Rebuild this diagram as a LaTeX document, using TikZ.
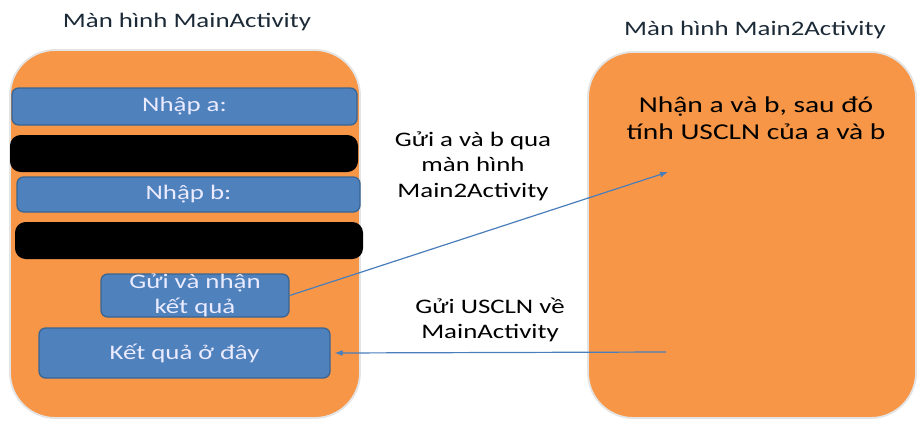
\documentclass[tikz,border=0pt]{standalone}
\usepackage{fontspec}
\setmainfont{Carlito}[FakeStretch=1.3]
\usetikzlibrary{arrows.meta}
\definecolor{ScrOrange}{HTML}{F79646}
\definecolor{ScrEdge}{HTML}{E4E4E4}
\definecolor{BtnBlue}{HTML}{4F81BD}
\definecolor{BtnEdge}{HTML}{3A6592}
\definecolor{LinkBlue}{HTML}{4A7EBB}
\definecolor{TitleInk}{HTML}{1C2A38}

\begin{document}
\begin{tikzpicture}[
  x=0.75pt,y=-0.75pt,>=Latex,
  screen/.style={draw=ScrEdge,fill=ScrOrange,line width=1.4pt,
    rounded corners=34pt,inner sep=0pt},
  field/.style={draw=BtnEdge,fill=BtnBlue,line width=1pt,rounded corners=5pt,
    inner sep=0pt,align=center,text=white!92!blue,
    font=\fontsize{15.5}{18.5}\selectfont},
  blackbar/.style={fill=black,rounded corners=8pt,inner sep=0pt,
    minimum width=261pt,minimum height=27.75pt},
  flow/.style={-{Latex[length=6pt,width=4.5pt]},draw=LinkBlue,line width=0.9pt},
  screentitle/.style={text=TitleInk,font=\fontsize{15.5}{18}\selectfont},
  msg/.style={align=center,font=\fontsize{15.5}{19}\selectfont}
]
\useasboundingbox (0,0) rectangle (920,421);

% Two screens side by side.
\node[screen,minimum width=262.5pt,minimum height=276pt] (mainscr) at (185,234) {};
\node[screen,minimum width=246pt,minimum height=274.5pt] (main2scr) at (752,235) {};
\node[screentitle] (t1) at (187,22) {Màn hình MainActivity};
\node[screentitle] (t2) at (755,30) {Màn hình Main2Activity};

% MainActivity widgets.
\node[field,minimum width=258.75pt,minimum height=27.75pt] (inpa) at (184.5,106.5) {Nhập a:};
\node[blackbar] (bara) at (184,153.5) {};
\node[field,minimum width=257.25pt,minimum height=26.25pt] (inpb) at (188.5,194.5) {Nhập b:};
\node[blackbar] (barb) at (189,240.5) {};
\node[field,minimum width=141pt,minimum height=32.25pt] (send) at (195,295.5)
  {Gửi và nhận\\kết quả};
\node[field,minimum width=218.25pt,minimum height=37.5pt] (result) at (184.5,353)
  {Kết quả ở đây};

% Main2Activity content.
\node[align=center,font=\fontsize{17}{20.25}\selectfont] (calc) at (756,118)
  {Nhận a và b, sau đó\\tính USCLN của a và b};
\coordinate (recv) at (668,172);
\coordinate (reply) at (666,352);

% Messages between the screens.
\draw[flow] (send.east) -- (recv);
\draw[flow] (reply) -- ([xshift=3pt]result.east);
\node[msg] (msgab) at (473,166) {Gửi a và b qua\\màn hình\\Main2Activity};
\node[msg] (msgback) at (490,320) {Gửi USCLN về\\MainActivity};

\end{tikzpicture}
\end{document}
